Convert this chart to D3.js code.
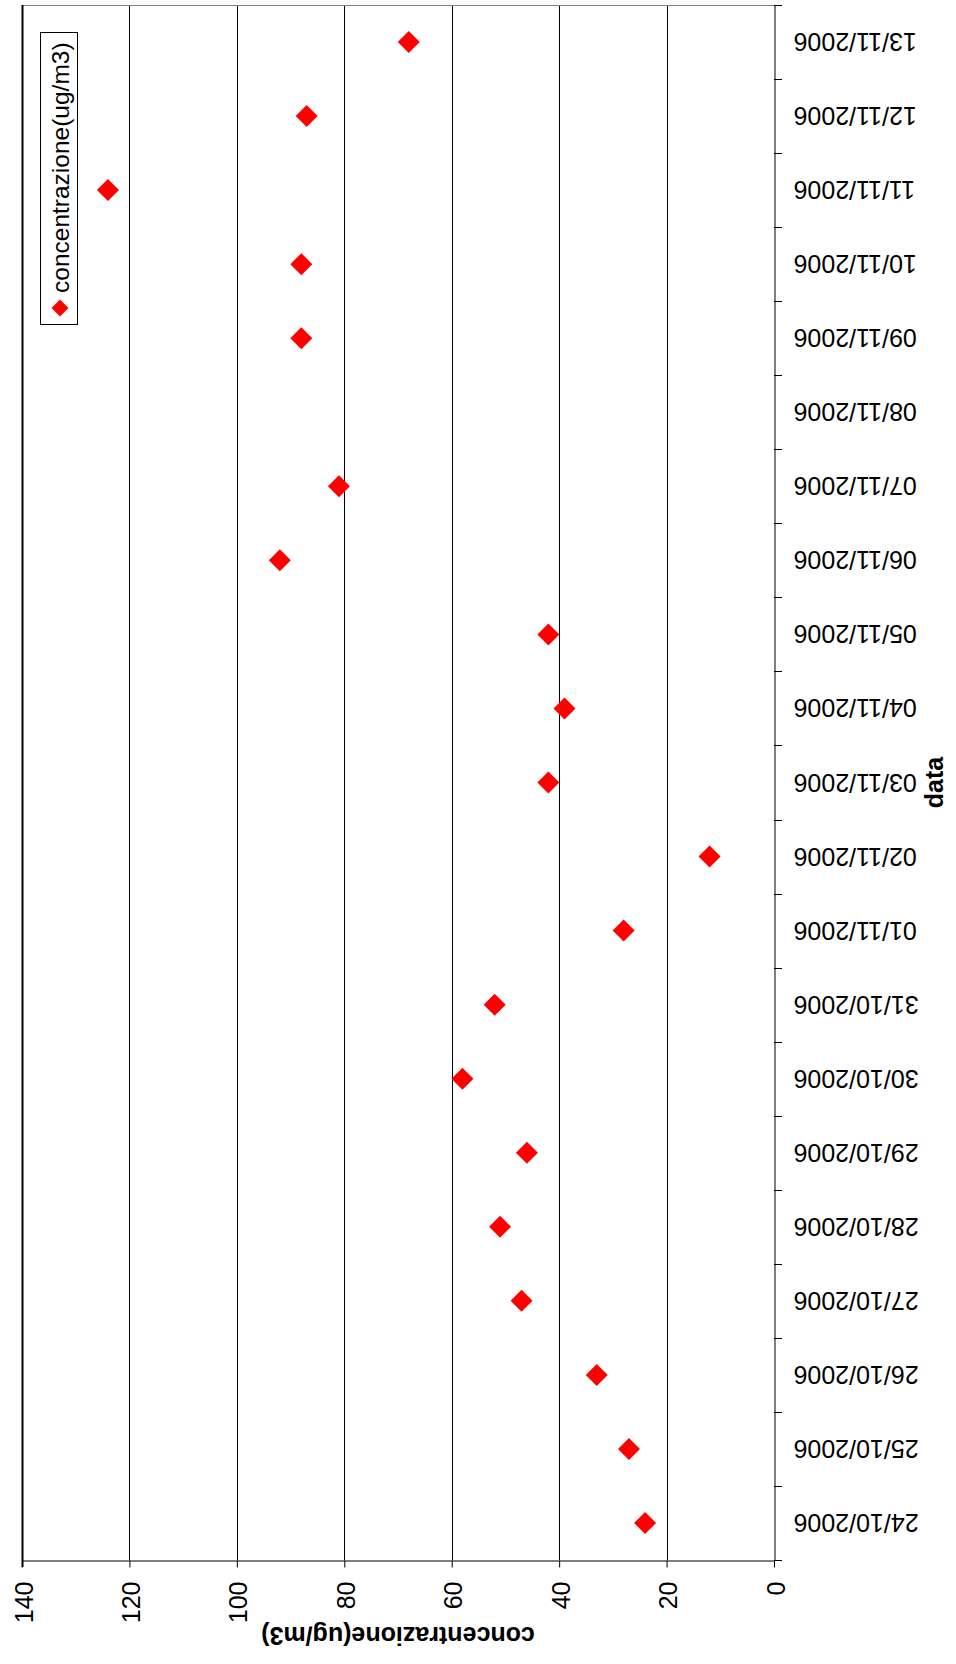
<!DOCTYPE html>
<html>
<head>
<meta charset="utf-8">
<script src="https://d3js.org/d3.v7.min.js"></script>
<style>
  body { margin: 0; background: #fff; }
  svg { display: block; }
  text { font-family: "Liberation Sans", Arial, sans-serif; fill: #000; }
</style>
</head>
<body>
<svg></svg>
<script>
// the page is a rotated Excel chart: categories run up the right side,
// values run right-to-left along the bottom
var dates = ["24/10/2006", "25/10/2006", "26/10/2006", "27/10/2006", "28/10/2006",
  "29/10/2006", "30/10/2006", "31/10/2006", "01/11/2006", "02/11/2006", "03/11/2006",
  "04/11/2006", "05/11/2006", "06/11/2006", "07/11/2006", "08/11/2006", "09/11/2006",
  "10/11/2006", "11/11/2006", "12/11/2006", "13/11/2006"];
var concentrazione = [24, 27, 33, 47, 51, 46, 58, 52, 28, 12, 42, 39, 42, 92, 81, null,
  88, 88, 124, 87, 68];
var valueTicks = [0, 20, 40, 60, 80, 100, 120, 140];
var seriesName = "concentrazione(ug/m3)";
var valueTitle = "concentrazione(ug/m3)";
var catTitle = "data";

var width = 956, height = 1664;
// note: "top" is taken by window.top, so use plot* names
var plotLeft = 22, plotRight = 774, plotTop = 5, plotBottom = 1560;

var svg = d3.select("svg")
  .attr("width", width)
  .attr("height", height);

var x = d3.scaleLinear()
  .domain([0, 140])
  .range([plotRight, plotLeft]);

var y = d3.scaleBand()
  .domain(dates)
  .range([plotBottom, plotTop]);

// gridlines
svg.append("g")
  .selectAll("line")
  .data(valueTicks.filter(function(d) { return d > 0 && d < 140; }))
  .enter().append("line")
  .attr("x1", function(d) { return Math.round(x(d)) + 0.5; })
  .attr("x2", function(d) { return Math.round(x(d)) + 0.5; })
  .attr("y1", plotTop)
  .attr("y2", plotBottom)
  .attr("stroke", "#000")
  .attr("stroke-width", 1);

// top border of the plot area
svg.append("line")
  .attr("x1", plotLeft).attr("x2", plotRight)
  .attr("y1", plotTop + 0.5).attr("y2", plotTop + 0.5)
  .attr("stroke", "#808080");

// value axis (bottom)
var xAxis = d3.axisBottom(x)
  .tickValues(valueTicks)
  .tickSize(7)
  .tickSizeOuter(0)
  .tickFormat(d3.format("d"));

var gx = svg.append("g")
  .attr("transform", "translate(0," + (plotBottom + 0.5) + ")")
  .call(xAxis);
gx.selectAll("line").attr("stroke", "#000");
gx.select(".domain").attr("stroke", "#000");
gx.selectAll("text")
  .attr("x", 0).attr("y", 0).attr("dy", null)
  .attr("transform", "translate(1,21) rotate(-90)")
  .attr("text-anchor", "end")
  .attr("dominant-baseline", "central")
  .style("font-size", "25px")
  .style("font-family", "Liberation Sans, Arial, sans-serif");

// category axis (right)
var yAxis = d3.axisRight(y)
  .tickSize(0)
  .tickSizeOuter(0);

var gy = svg.append("g")
  .attr("transform", "translate(" + (plotRight + 0.5) + ",0)")
  .call(yAxis);
gy.select(".domain").attr("stroke", "#000");
gy.selectAll("text")
  .attr("x", 0).attr("dy", null)
  .attr("transform", "translate(19,0) rotate(180)")
  .attr("text-anchor", "end")
  .attr("dominant-baseline", "central")
  .style("font-size", "25px")
  .style("font-family", "Liberation Sans, Arial, sans-serif");

// category tick marks sit between categories
var bounds = dates.map(function(d) { return y(d); }).concat([plotBottom]);
svg.append("g")
  .selectAll("line")
  .data(bounds)
  .enter().append("line")
  .attr("x1", plotRight)
  .attr("x2", plotRight + 8)
  .attr("y1", function(d) { return Math.round(d) + 0.5; })
  .attr("y2", function(d) { return Math.round(d) + 0.5; })
  .attr("stroke", "#000");

// left border = 140 line
svg.append("line")
  .attr("x1", plotLeft + 0.5).attr("x2", plotLeft + 0.5)
  .attr("y1", plotTop).attr("y2", plotBottom + 7)
  .attr("stroke", "#000")
  .attr("stroke-width", 2);

// points
var diamond = function(r) {
  return "M0," + (-r) + "L" + r + ",0L0," + r + "L" + (-r) + ",0Z";
};
var pts = dates.map(function(d, i) { return { date: d, value: concentrazione[i] }; })
  .filter(function(d) { return d.value != null; });

svg.append("g")
  .selectAll("path")
  .data(pts)
  .enter().append("path")
  .attr("d", diamond(11))
  .attr("transform", function(d) {
    return "translate(" + x(d.value) + "," + (y(d.date) + y.bandwidth() / 2) + ")";
  })
  .attr("fill", "#ff0000");

// axis titles
svg.append("text")
  .attr("transform", "translate(" + ((plotLeft + plotRight) / 2) + ",1636) rotate(180)")
  .attr("text-anchor", "middle")
  .attr("dominant-baseline", "central")
  .style("font-size", "25px")
  .style("font-weight", "bold")
  .text(valueTitle);

svg.append("text")
  .attr("transform", "translate(934," + ((plotTop + plotBottom) / 2) + ") rotate(-90)")
  .attr("text-anchor", "middle")
  .attr("dominant-baseline", "central")
  .style("font-size", "25px")
  .style("font-weight", "bold")
  .text(catTitle);

// legend
var legend = svg.append("g");
legend.append("rect")
  .attr("x", 40.5).attr("y", 32.5)
  .attr("width", 37).attr("height", 292)
  .attr("fill", "#fff")
  .attr("stroke", "#000");
legend.append("path")
  .attr("d", diamond(8.5))
  .attr("transform", "translate(60,308)")
  .attr("fill", "#ff0000");
legend.append("text")
  .attr("transform", "translate(60,293) rotate(-90)")
  .attr("text-anchor", "start")
  .attr("dominant-baseline", "central")
  .style("font-size", "24.5px")
  .text(seriesName);
</script>
</body>
</html>
